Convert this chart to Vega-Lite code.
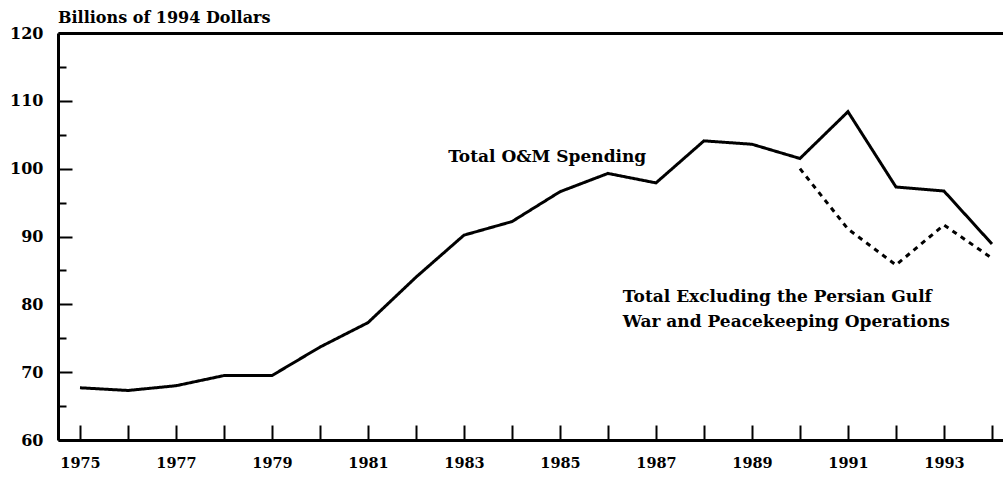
{
  "$schema": "https://vega.github.io/schema/vega-lite/v6.json",
  "width": 945,
  "height": 407,
  "autosize": "none",
  "padding": {"left": 58, "top": 33, "right": 0, "bottom": 41},
  "background": "white",
  "title": {
    "text": "Billions of 1994 Dollars",
    "anchor": "start",
    "frame": "group",
    "font": "DejaVu Serif",
    "fontWeight": "bold",
    "fontSize": 16,
    "offset": -1,
    "color": "black"
  },
  "config": {
    "view": {"stroke": null},
    "axis": {
      "domainColor": "black",
      "domainWidth": 3,
      "tickColor": "black",
      "tickWidth": 2,
      "grid": false,
      "labelFont": "DejaVu Serif",
      "labelFontWeight": "bold",
      "labelColor": "black",
      "title": null
    }
  },
  "datasets": {
    "spend": [
      {"year": 1975, "value": 67.7, "series": "Total O&M Spending"},
      {"year": 1976, "value": 67.3, "series": "Total O&M Spending"},
      {"year": 1977, "value": 68.0, "series": "Total O&M Spending"},
      {"year": 1978, "value": 69.5, "series": "Total O&M Spending"},
      {"year": 1979, "value": 69.5, "series": "Total O&M Spending"},
      {"year": 1980, "value": 73.7, "series": "Total O&M Spending"},
      {"year": 1981, "value": 77.3, "series": "Total O&M Spending"},
      {"year": 1982, "value": 84.0, "series": "Total O&M Spending"},
      {"year": 1983, "value": 90.2, "series": "Total O&M Spending"},
      {"year": 1984, "value": 92.2, "series": "Total O&M Spending"},
      {"year": 1985, "value": 96.6, "series": "Total O&M Spending"},
      {"year": 1986, "value": 99.3, "series": "Total O&M Spending"},
      {"year": 1987, "value": 97.9, "series": "Total O&M Spending"},
      {"year": 1988, "value": 104.1, "series": "Total O&M Spending"},
      {"year": 1989, "value": 103.6, "series": "Total O&M Spending"},
      {"year": 1990, "value": 101.5, "series": "Total O&M Spending"},
      {"year": 1991, "value": 108.4, "series": "Total O&M Spending"},
      {"year": 1992, "value": 97.3, "series": "Total O&M Spending"},
      {"year": 1993, "value": 96.7, "series": "Total O&M Spending"},
      {"year": 1994, "value": 88.9, "series": "Total O&M Spending"},
      {"year": 1990, "value": 100.0, "series": "Excluding Gulf War and Peacekeeping"},
      {"year": 1991, "value": 91.1, "series": "Excluding Gulf War and Peacekeeping"},
      {"year": 1992, "value": 85.8, "series": "Excluding Gulf War and Peacekeeping"},
      {"year": 1993, "value": 91.7, "series": "Excluding Gulf War and Peacekeeping"},
      {"year": 1994, "value": 86.8, "series": "Excluding Gulf War and Peacekeeping"}
    ],
    "labels": [
      {"x": 1982.67, "y": 101.0, "label": "Total O&M Spending"},
      {"x": 1986.31, "y": 80.4, "label": "Total Excluding the Persian Gulf"},
      {"x": 1986.31, "y": 76.7, "label": "War and Peacekeeping Operations"}
    ]
  },
  "layer": [
    {
      "data": {"name": "spend"},
      "mark": {"type": "line", "strokeWidth": 3, "color": "black"},
      "encoding": {
        "x": {
          "field": "year",
          "type": "quantitative",
          "scale": {"domain": [1974.542, 1994.23], "nice": false, "zero": false},
          "axis": {
            "orient": "bottom",
            "values": [1975, 1976, 1977, 1978, 1979, 1980, 1981, 1982, 1983, 1984, 1985, 1986, 1987, 1988, 1989, 1990, 1991, 1992, 1993, 1994],
            "format": "d",
            "labelExpr": "datum.value % 2 == 1 ? datum.label : ''",
            "tickSize": -15,
            "labelPadding": 31,
            "labelFontSize": 14.5,
            "labelFlush": false
          }
        },
        "y": {
          "field": "value",
          "type": "quantitative",
          "scale": {"domain": [60, 120], "nice": false, "zero": false},
          "axis": {
            "orient": "left",
            "values": [60, 70, 80, 90, 100, 110, 120],
            "tickSize": -14,
            "labelPadding": 29,
            "labelFontSize": 16,
            "labelFlush": false
          }
        },
        "strokeDash": {
          "field": "series",
          "type": "nominal",
          "scale": {
            "domain": ["Total O&M Spending", "Excluding Gulf War and Peacekeeping"],
            "range": [[1, 0], [5, 5]]
          },
          "legend": null
        }
      }
    },
    {
      "data": {"name": "labels"},
      "mark": {
        "type": "text",
        "align": "left",
        "baseline": "alphabetic",
        "font": "DejaVu Serif",
        "fontWeight": "bold",
        "fontSize": 17,
        "color": "black"
      },
      "encoding": {
        "x": {
          "field": "x",
          "type": "quantitative",
          "axis": {"orient": "top", "ticks": false, "labels": false, "domain": true}
        },
        "y": {
          "field": "y",
          "type": "quantitative",
          "axis": {
            "orient": "left",
            "values": [65, 75, 85, 95, 105, 115],
            "tickSize": -8,
            "labels": false,
            "domain": false
          }
        },
        "text": {"field": "label"}
      }
    }
  ],
  "resolve": {"axis": {"x": "independent", "y": "independent"}}
}
